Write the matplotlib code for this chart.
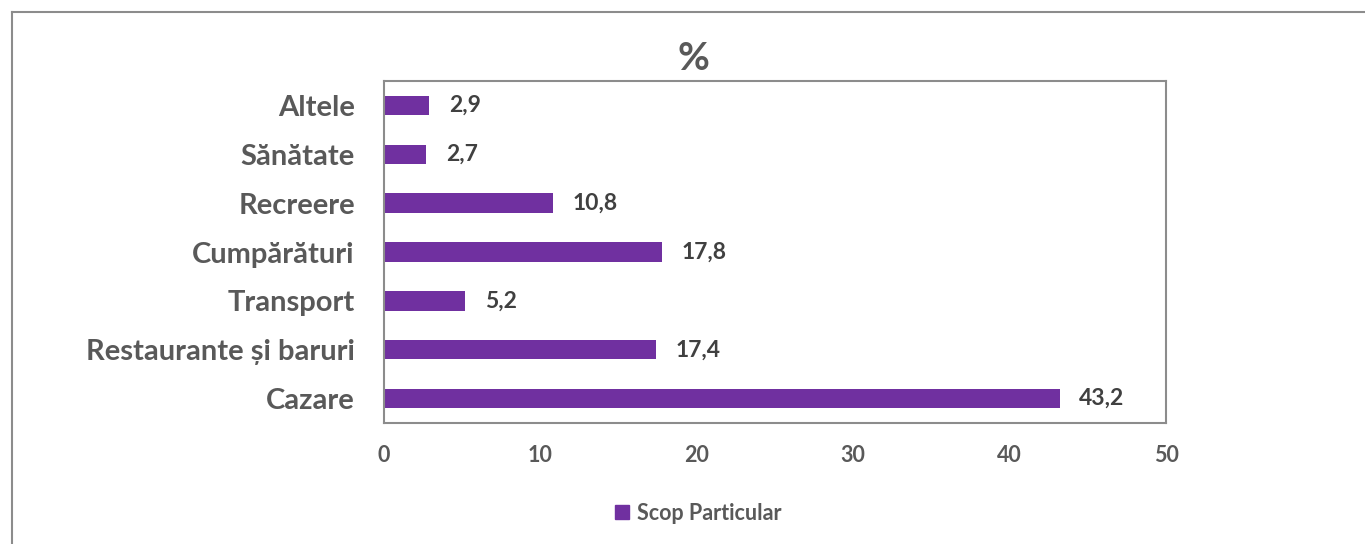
import matplotlib
matplotlib.use("Agg")
import matplotlib.pyplot as plt
from matplotlib.lines import Line2D
from matplotlib.patches import Patch

categories = ["Cazare", "Restaurante și baruri", "Transport", "Cumpărături",
              "Recreere", "Sănătate", "Altele"]
values = [43.2, 17.4, 5.2, 17.8, 10.8, 2.7, 2.9]
series_name = "Scop Particular"
x_ticks = [0, 10, 20, 30, 40, 50]

bar_color = "#7030A0"
text_gray = "#595959"
label_dark = "#404040"
frame_gray = "#8c8c8c"

plt.rcParams["font.family"] = ["Lato", "DejaVu Sans"]
plt.rcParams["font.weight"] = "bold"

fig = plt.figure(figsize=(13.65, 5.44), dpi=100)
W, H = 1365, 544
ax = fig.add_axes([384 / W, 1 - 423 / H, (1166 - 384) / W, (423 - 81) / H])

ypos = range(len(categories))
ax.barh(ypos, values, height=0.4, color=bar_color)
ax.set_xlim(0, 50)
ax.set_ylim(-0.5, len(categories) - 0.5)
ax.set_yticks(list(ypos))
ax.set_yticklabels(categories, fontsize=21, color=text_gray, fontweight="bold")
ax.set_xticks(x_ticks)
ax.set_xticklabels([str(t) for t in x_ticks], fontsize=15.5, color=text_gray, fontweight="bold")
ax.tick_params(axis="both", length=0)
ax.tick_params(axis="x", pad=16)
ax.tick_params(axis="y", pad=21)
for s in ax.spines.values():
    s.set_color(frame_gray)
    s.set_linewidth(1.5)

for y, v in zip(ypos, values):
    ax.annotate(f"{v:.1f}".replace(".", ","), (v, y), xytext=(14, 0),
                textcoords="offset points", va="center", ha="left",
                fontsize=16.5, color=label_dark, fontweight="bold")

fig.text(693 / W, 1 - 58 / H, "%", fontsize=28, color=text_gray, fontweight="bold",
         ha="center", va="center")

fig.legend(handles=[Patch(color=bar_color, label=series_name)],
           loc="center", bbox_to_anchor=(698 / W, 1 - 513 / H), frameon=False,
           handlelength=0.65, handleheight=0.65, handletextpad=0.35,
           prop={"size": 15.5, "weight": "bold"}, labelcolor=text_gray)

# outer chart frame (only left and top edges are visible)
fig.add_artist(Line2D([11.5 / W, 11.5 / W], [0, 1 - 12 / H], transform=fig.transFigure,
                      color=frame_gray, lw=1.5))
fig.add_artist(Line2D([11.5 / W, 1], [1 - 12 / H, 1 - 12 / H], transform=fig.transFigure,
                      color=frame_gray, lw=1.5))

fig.savefig("out.png", dpi=100)
